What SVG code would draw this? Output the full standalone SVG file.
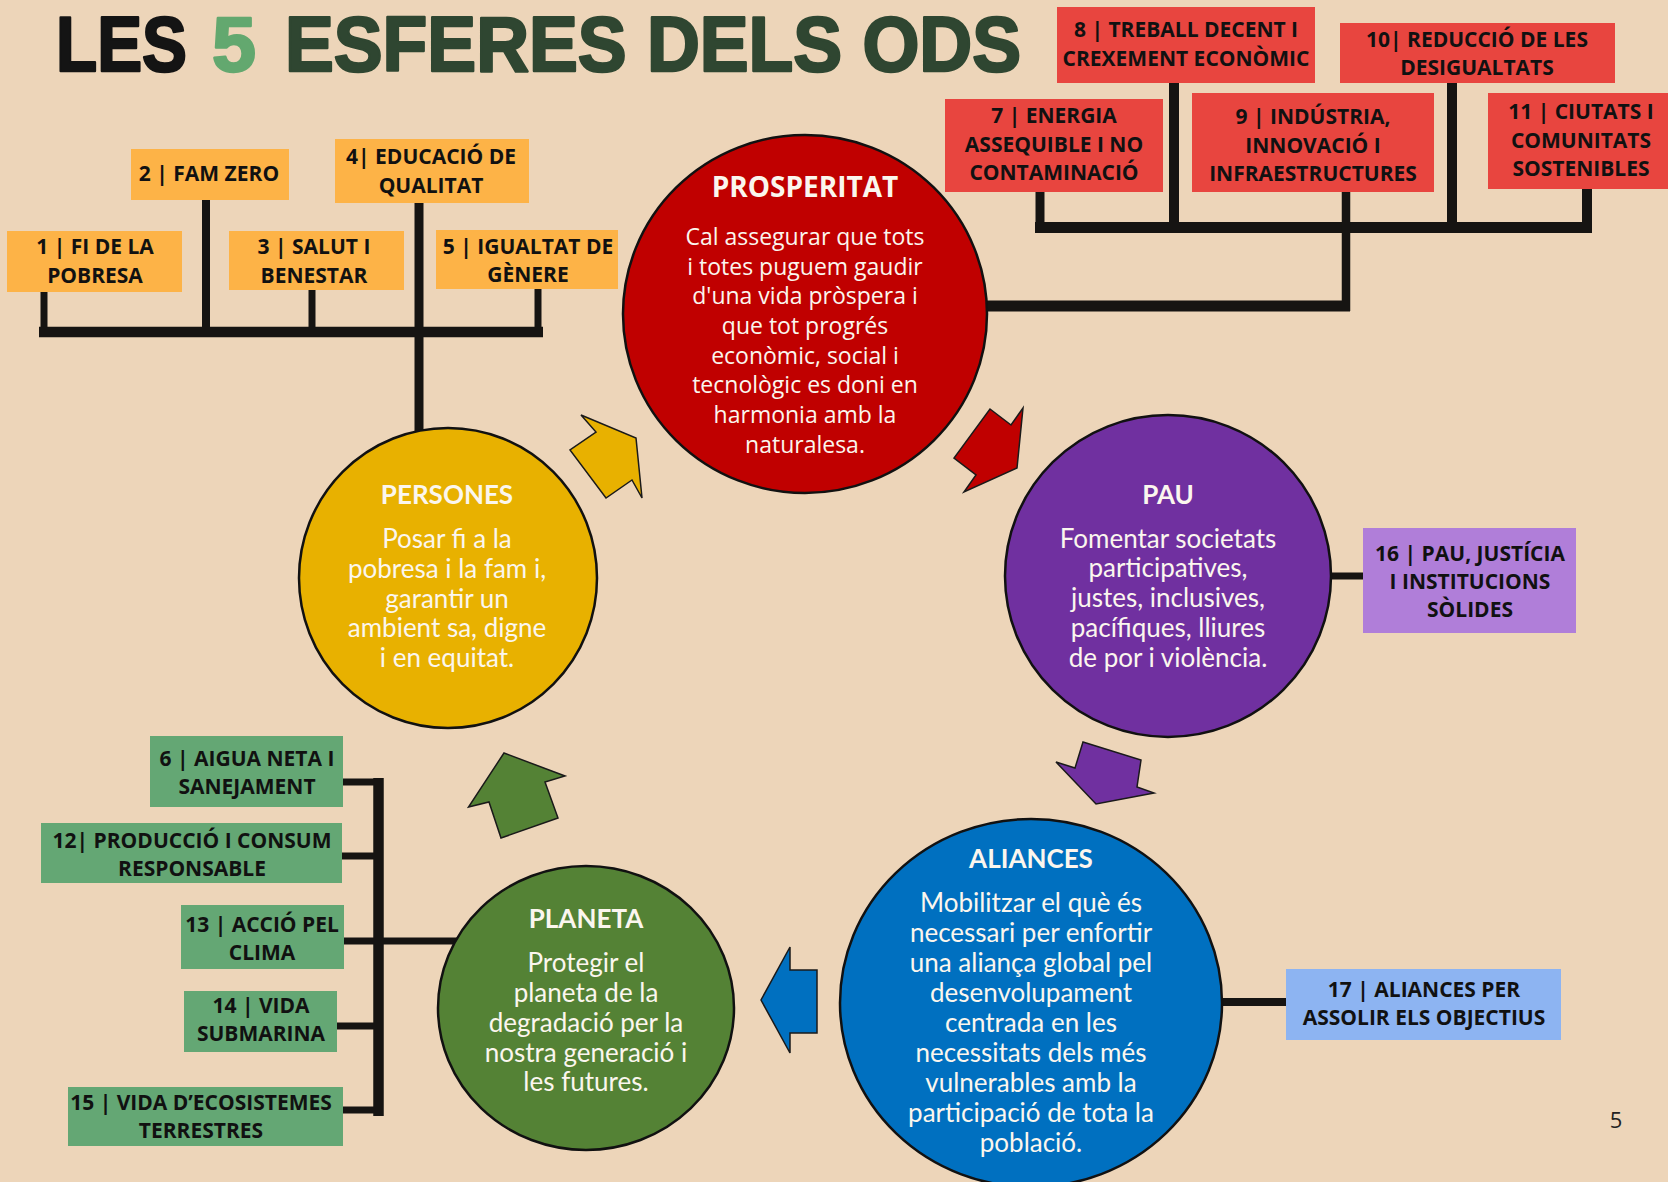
<svg xmlns="http://www.w3.org/2000/svg" width="1668" height="1182" viewBox="0 0 1668 1182">
<style>
.lbl{font-family:"Open Sans","Liberation Sans",sans-serif;font-weight:700;font-size:21px;fill:#111;text-anchor:middle}
.ttl{font-family:Lato,"Open Sans",sans-serif;font-weight:700;font-size:26px;fill:#FBF6EE;text-anchor:middle}
.body{font-family:Lato,"Open Sans",sans-serif;font-weight:400;font-size:26px;fill:#FBF6EE;text-anchor:middle}
.pttl{font-family:"Open Sans",sans-serif;font-weight:700;font-size:28px;fill:#FBF6EE;text-anchor:middle}
.pbody{font-family:"Open Sans",sans-serif;font-weight:400;font-size:23px;fill:#FBF6EE;text-anchor:middle}
.big{font-family:"Liberation Sans",Arial,sans-serif;font-weight:700;font-size:78px;stroke-width:2.5;stroke-linejoin:round}
.circ{stroke:#111;stroke-width:2.5}
.arr{stroke:#1a1a1a;stroke-width:1.5;stroke-linejoin:miter}
.ln{stroke:#161412;fill:none;stroke-linecap:butt}
.or{fill:#FDB347}.rd{fill:#E8453F}.gr{fill:#64A774}.pu{fill:#B07ED9}.bl{fill:#8DB4F2}
</style>
<rect x="0" y="0" width="1668" height="1182" fill="#EDD5B9"/>

<g id="title">
<text class="big" x="56" y="71" fill="#141414" stroke="#141414" textLength="131" lengthAdjust="spacingAndGlyphs">LES</text>
<text class="big" x="212" y="71" fill="#63A86F" stroke="#63A86F" textLength="44" lengthAdjust="spacingAndGlyphs">5</text>
<text class="big" x="285" y="71" fill="#2F4631" stroke="#2F4631" textLength="736" lengthAdjust="spacingAndGlyphs">ESFERES DELS ODS</text>
</g>

<g id="connectors">
<!-- Persones tree -->
<line class="ln" x1="39" y1="332" x2="543" y2="332" stroke-width="10.5"/>
<line class="ln" x1="44" y1="292" x2="44" y2="332" stroke-width="7"/>
<line class="ln" x1="206" y1="200" x2="206" y2="332" stroke-width="8"/>
<line class="ln" x1="312" y1="290" x2="312" y2="332" stroke-width="7"/>
<line class="ln" x1="419" y1="203" x2="419" y2="434" stroke-width="9"/>
<line class="ln" x1="538" y1="289" x2="538" y2="332" stroke-width="7"/>
<!-- Prosperitat tree -->
<line class="ln" x1="1035" y1="227.5" x2="1592" y2="227.5" stroke-width="11"/>
<line class="ln" x1="1040" y1="192" x2="1040" y2="228" stroke-width="9"/>
<line class="ln" x1="1174" y1="83" x2="1174" y2="228" stroke-width="10"/>
<line class="ln" x1="1346" y1="192" x2="1346" y2="311" stroke-width="8.5"/>
<line class="ln" x1="1452" y1="83" x2="1452" y2="228" stroke-width="10"/>
<line class="ln" x1="1587" y1="189" x2="1587" y2="232" stroke-width="10"/>
<line class="ln" x1="986" y1="306" x2="1350" y2="306" stroke-width="11"/>
<!-- Planeta tree -->
<line class="ln" x1="378.5" y1="778" x2="378.5" y2="1116" stroke-width="10.5"/>
<line class="ln" x1="343" y1="782" x2="379" y2="782" stroke-width="7"/>
<line class="ln" x1="342" y1="856" x2="379" y2="856" stroke-width="7"/>
<line class="ln" x1="344" y1="941" x2="457" y2="941" stroke-width="7"/>
<line class="ln" x1="337" y1="1026" x2="379" y2="1026" stroke-width="7"/>
<line class="ln" x1="343" y1="1110" x2="379" y2="1110" stroke-width="7"/>
<!-- Pau / Aliances -->
<line class="ln" x1="1330" y1="576" x2="1364" y2="576" stroke-width="7"/>
<line class="ln" x1="1221" y1="1002" x2="1287" y2="1002" stroke-width="8"/>
<!-- cycle arrows -->
<polygon class="arr" fill="#E8B100" points="581,415 636,438 642,498 632,480 606,498 570,450 596,432"/>
<polygon class="arr" fill="#C00000" points="990,409 1011,425 1023,408 1017,468 964,492 976,475 954,458"/>
<polygon class="arr" fill="#7030A0" points="1083,742 1141,760 1137,787 1154,793 1096,804 1056,762 1075,768"/>
<polygon class="arr" fill="#0070C0" points="790,947 790,970 817,970 817,1033 790,1033 790,1053 761,1000"/>
<polygon class="arr" fill="#548235" points="504,753 565,776 545,782 558,818 501,838 489,802 468.5,807"/>
</g>

<g id="prosperitat">
<ellipse class="circ" cx="805" cy="314" rx="182" ry="179" fill="#C00000"/>
<text class="pttl" x="805" y="197">PROSPERITAT</text>
<text class="pbody" x="805" y="245">Cal assegurar que tots</text>
<text class="pbody" x="805" y="275">i totes puguem gaudir</text>
<text class="pbody" x="805" y="304">d'una vida pròspera i</text>
<text class="pbody" x="805" y="334">que tot progrés</text>
<text class="pbody" x="805" y="364">econòmic, social i</text>
<text class="pbody" x="805" y="393">tecnològic es doni en</text>
<text class="pbody" x="805" y="423">harmonia amb la</text>
<text class="pbody" x="805" y="453">naturalesa.</text>
</g>

<g id="persones">
<ellipse class="circ" cx="448" cy="578" rx="149" ry="150" fill="#E8B100"/>
<text class="ttl" x="447" y="504">PERSONES</text>
<text class="body" x="447" y="548">Posar fi a la</text>
<text class="body" x="447" y="578">pobresa i la fam i,</text>
<text class="body" x="447" y="608">garantir un</text>
<text class="body" x="447" y="637">ambient sa, digne</text>
<text class="body" x="447" y="667">i en equitat.</text>
</g>

<g id="pau">
<ellipse class="circ" cx="1168" cy="576" rx="163" ry="161" fill="#7030A0"/>
<text class="ttl" x="1168" y="504">PAU</text>
<text class="body" x="1168" y="548">Fomentar societats</text>
<text class="body" x="1168" y="577">participatives,</text>
<text class="body" x="1168" y="607">justes, inclusives,</text>
<text class="body" x="1168" y="637">pacífiques, lliures</text>
<text class="body" x="1168" y="667">de por i violència.</text>
</g>

<g id="planeta">
<ellipse class="circ" cx="586" cy="1008" rx="148" ry="142" fill="#548235"/>
<text class="ttl" x="586" y="928">PLANETA</text>
<text class="body" x="586" y="972">Protegir el</text>
<text class="body" x="586" y="1002">planeta de la</text>
<text class="body" x="586" y="1032">degradació per la</text>
<text class="body" x="586" y="1062">nostra generació i</text>
<text class="body" x="586" y="1091">les futures.</text>
</g>

<g id="aliances">
<ellipse class="circ" cx="1031" cy="1003" rx="191" ry="184" fill="#0070C0"/>
<text class="ttl" x="1031" y="868">ALIANCES</text>
<text class="body" x="1031" y="912">Mobilitzar el què és</text>
<text class="body" x="1031" y="942">necessari per enfortir</text>
<text class="body" x="1031" y="972">una aliança global pel</text>
<text class="body" x="1031" y="1002">desenvolupament</text>
<text class="body" x="1031" y="1032">centrada en les</text>
<text class="body" x="1031" y="1062">necessitats dels més</text>
<text class="body" x="1031" y="1092">vulnerables amb la</text>
<text class="body" x="1031" y="1122">participació de tota la</text>
<text class="body" x="1031" y="1152">població.</text>
</g>

<g id="ods1"><rect class="or" x="7" y="231" width="175" height="61"/><text class="lbl" x="95" y="254">1 | FI DE LA</text><text class="lbl" x="95" y="283">POBRESA</text></g>
<g id="ods2"><rect class="or" x="131" y="149" width="158" height="51"/><text class="lbl" x="209" y="181">2 | FAM ZERO</text></g>
<g id="ods3"><rect class="or" x="229" y="231" width="175" height="59"/><text class="lbl" x="314" y="254">3 | SALUT I</text><text class="lbl" x="314" y="283">BENESTAR</text></g>
<g id="ods4"><rect class="or" x="335" y="139" width="194" height="64"/><text class="lbl" x="431" y="164">4| EDUCACIÓ DE</text><text class="lbl" x="431" y="193">QUALITAT</text></g>
<g id="ods5"><rect class="or" x="436" y="230" width="182" height="59"/><text class="lbl" x="528" y="254">5 | IGUALTAT DE</text><text class="lbl" x="528" y="282">GÈNERE</text></g>

<g id="ods7"><rect class="rd" x="945" y="99" width="218" height="93"/><text class="lbl" x="1054" y="123">7 | ENERGIA</text><text class="lbl" x="1054" y="152">ASSEQUIBLE I NO</text><text class="lbl" x="1054" y="180">CONTAMINACIÓ</text></g>
<g id="ods8"><rect class="rd" x="1057" y="7" width="258" height="76"/><text class="lbl" x="1186" y="37">8 | TREBALL DECENT I</text><text class="lbl" x="1186" y="66">CREXEMENT ECONÒMIC</text></g>
<g id="ods9"><rect class="rd" x="1192" y="93" width="242" height="99"/><text class="lbl" x="1313" y="124">9 | INDÚSTRIA,</text><text class="lbl" x="1313" y="153">INNOVACIÓ I</text><text class="lbl" x="1313" y="181">INFRAESTRUCTURES</text></g>
<g id="ods10"><rect class="rd" x="1340" y="23" width="275" height="60"/><text class="lbl" x="1477" y="47">10| REDUCCIÓ DE LES</text><text class="lbl" x="1477" y="75">DESIGUALTATS</text></g>
<g id="ods11"><rect class="rd" x="1488" y="93" width="180" height="96"/><text class="lbl" x="1581" y="119">11 | CIUTATS I</text><text class="lbl" x="1581" y="148">COMUNITATS</text><text class="lbl" x="1581" y="176">SOSTENIBLES</text></g>

<g id="ods6"><rect class="gr" x="150" y="736" width="193" height="71"/><text class="lbl" x="247" y="766">6 | AIGUA NETA I</text><text class="lbl" x="247" y="794">SANEJAMENT</text></g>
<g id="ods12"><rect class="gr" x="41" y="823" width="301" height="60"/><text class="lbl" x="192" y="848">12| PRODUCCIÓ I CONSUM</text><text class="lbl" x="192" y="876">RESPONSABLE</text></g>
<g id="ods13"><rect class="gr" x="181" y="905" width="163" height="64"/><text class="lbl" x="262" y="932">13 | ACCIÓ PEL</text><text class="lbl" x="262" y="960">CLIMA</text></g>
<g id="ods14"><rect class="gr" x="184" y="991" width="153" height="61"/><text class="lbl" x="261" y="1013">14 | VIDA</text><text class="lbl" x="261" y="1041">SUBMARINA</text></g>
<g id="ods15"><rect class="gr" x="68" y="1087" width="275" height="59"/><text class="lbl" x="201" y="1110">15 | VIDA D’ECOSISTEMES</text><text class="lbl" x="201" y="1138">TERRESTRES</text></g>

<g id="ods16"><rect class="pu" x="1363" y="528" width="213" height="105"/><text class="lbl" x="1470" y="561">16 | PAU, JUSTÍCIA</text><text class="lbl" x="1470" y="589">I INSTITUCIONS</text><text class="lbl" x="1470" y="617">SÒLIDES</text></g>
<g id="ods17"><rect class="bl" x="1286" y="969" width="275" height="71"/><text class="lbl" x="1424" y="997">17 | ALIANCES PER</text><text class="lbl" x="1424" y="1025">ASSOLIR ELS OBJECTIUS</text></g>

<text x="1616" y="1128" font-family="'Open Sans',sans-serif" font-size="22" fill="#222" text-anchor="middle">5</text>
</svg>
